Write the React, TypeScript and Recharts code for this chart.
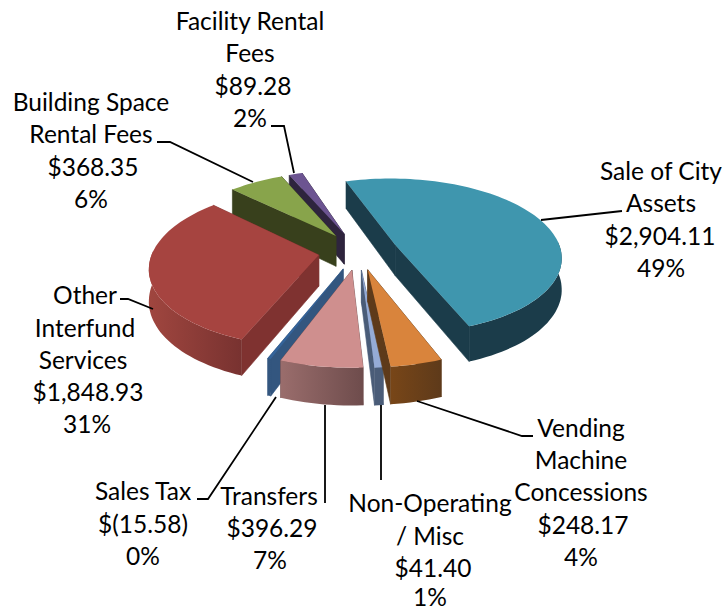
import { PieChart, Pie } from "recharts";

const categories = [
  "Facility Rental Fees",
  "Building Space Rental Fees",
  "Other Interfund Services",
  "Sales Tax",
  "Transfers",
  "Non-Operating / Misc",
  "Vending Machine Concessions",
  "Sale of City Assets",
];
const amounts = [89.28, 368.35, 1848.93, -15.58, 396.29, 41.4, 248.17, 2904.11];
const percents = ["2%", "6%", "31%", "0%", "7%", "1%", "4%", "49%"];
const amountLabels = ["$89.28", "$368.35", "$1,848.93", "$(15.58)", "$396.29", "$41.40", "$248.17", "$2,904.11"];

// top face, radial wall, outer wall left/right
const topColors = ["#6C5491", "#88A44B", "#A64440", "#34639A", "#CF8F8E", "#95ABD6", "#D9843C", "#3F96AE"];
const wallColors = ["#2E243D", "#38401C", "#7F3230", "#33567F", "#6E4C4C", "#4A5C78", "#5E3A1A", "#1B3C4A"];
const outerLeft = ["#4A3A62", "#4E5C2A", "#A0463F", "#33567F", "#9A6D6C", "#4A5C78", "#784618", "#1B3C4A"];
const outerRight = ["#3D3050", "#38401C", "#783230", "#33567F", "#6E4C4C", "#4A5C78", "#5E3A1A", "#1B3C4A"];

const labelLines: { x: number; y: number; text: string }[][] = [
  [
    { x: 250, y: 30, text: "Facility Rental" },
    { x: 250, y: 62, text: "Fees" },
    { x: 253, y: 95, text: amountLabels[0] },
    { x: 250, y: 127, text: percents[0] },
  ],
  [
    { x: 91, y: 111, text: "Building Space" },
    { x: 91, y: 143, text: "Rental Fees" },
    { x: 93, y: 176, text: amountLabels[1] },
    { x: 91, y: 208, text: percents[1] },
  ],
  [
    { x: 85, y: 304, text: "Other" },
    { x: 85, y: 337, text: "Interfund" },
    { x: 83, y: 369, text: "Services" },
    { x: 88, y: 401, text: amountLabels[2] },
    { x: 87, y: 433, text: percents[2] },
  ],
  [
    { x: 143, y: 500, text: "Sales Tax" },
    { x: 143, y: 533, text: amountLabels[3] },
    { x: 143, y: 565, text: percents[3] },
  ],
  [
    { x: 269, y: 505, text: "Transfers" },
    { x: 272, y: 537, text: amountLabels[4] },
    { x: 270, y: 569, text: percents[4] },
  ],
  [
    { x: 430, y: 512, text: "Non-Operating" },
    { x: 430, y: 545, text: "/ Misc" },
    { x: 433, y: 577, text: amountLabels[5] },
    { x: 430, y: 606, text: percents[5] },
  ],
  [
    { x: 581, y: 437, text: "Vending" },
    { x: 581, y: 469, text: "Machine" },
    { x: 581, y: 501, text: "Concessions" },
    { x: 583, y: 534, text: amountLabels[6] },
    { x: 581, y: 566, text: percents[6] },
  ],
  [
    { x: 661, y: 180, text: "Sale of City" },
    { x: 661, y: 212, text: "Assets" },
    { x: 660, y: 245, text: amountLabels[7] },
    { x: 661, y: 277, text: percents[7] },
  ],
];

const leaderLines = [
  "271,126 284,126 294,173",
  "157,142 170,142 253,182",
  "120,299 128,299 153,309",
  "197,499 208,499 276,397",
  "325,405 325,503",
  "381,405 381,480",
  "533,436 522,436 417,401",
  "622,211 541,220",
];

const tableData = categories.map((name, i) => ({
  name,
  amount: amounts[i],
  size: Math.abs(amounts[i]),
}));

const PERSPECTIVE = 0.144;
const FLATTEN = 0.467;
const EXPLODE = 0.24;
const DEPTH = 31;
const RAD = Math.PI / 180;

type Pt = [number, number];

const toPath = (pts: Pt[]) => "M" + pts.map((p) => `${p[0].toFixed(1)},${p[1].toFixed(1)}`).join("L") + "Z";

// tilted, exploded wedge built from the sector angles Recharts hands over
const Slice3D = (props: any) => {
  const { cx, cy, outerRadius, startAngle, endAngle, index } = props;
  const mid = ((startAngle + endAngle) / 2) * RAD;
  const ox = EXPLODE * Math.cos(mid);
  const oy = EXPLODE * Math.sin(mid);

  const project = (u: number, v: number, down: boolean): Pt => {
    const pu = u + ox;
    const pv = v + oy;
    const s = 1 / (1 + PERSPECTIVE * pv);
    return [cx + outerRadius * pu * s, cy - outerRadius * FLATTEN * pv * s + (down ? DEPTH * s : 0)];
  };

  const steps = Math.max(2, Math.ceil((endAngle - startAngle) / 2));
  const rim: { u: number; v: number }[] = [];
  for (let i = 0; i <= steps; i++) {
    const a = (startAngle + ((endAngle - startAngle) * i) / steps) * RAD;
    rim.push({ u: Math.cos(a), v: Math.sin(a) });
  }

  const top: Pt[] = [project(0, 0, false), ...rim.map((p) => project(p.u, p.v, false))];

  const wall = (p: { u: number; v: number }) => [
    project(0, 0, false),
    project(p.u, p.v, false),
    project(p.u, p.v, true),
    project(0, 0, true),
  ];

  // only the part of the rim that faces the viewer gets an outer wall
  const front = rim.filter((p) => p.v < 0.05);
  const outer: Pt[] = [
    ...front.map((p) => project(p.u, p.v, false)),
    ...[...front].reverse().map((p) => project(p.u, p.v, true)),
  ];
  const xs = outer.map((p) => p[0]);
  const gradId = `outer-${index}`;

  return (
    <g>
      <defs>
        <linearGradient
          id={gradId}
          gradientUnits="userSpaceOnUse"
          x1={xs.length ? Math.min(...xs) : 0}
          x2={xs.length ? Math.max(...xs) : 1}
          y1={0}
          y2={0}
        >
          <stop offset="0%" stopColor={outerLeft[index]} />
          <stop offset="100%" stopColor={outerRight[index]} />
        </linearGradient>
      </defs>
      <path d={toPath(wall(rim[0]))} fill={wallColors[index]} stroke={wallColors[index]} strokeWidth={0.6} />
      <path
        d={toPath(wall(rim[rim.length - 1]))}
        fill={wallColors[index]}
        stroke={wallColors[index]}
        strokeWidth={0.6}
      />
      {outer.length > 2 && <path d={toPath(outer)} fill={`url(#${gradId})`} />}
      <path d={toPath(top)} fill={topColors[index]} />
    </g>
  );
};

const SliceLabel = (props: any) => {
  const { index } = props;
  return (
    <g>
      <polyline points={leaderLines[index]} fill="none" stroke="#000" strokeWidth={1.8} />
      {labelLines[index].map((line) => (
        <text
          key={line.text}
          x={line.x}
          y={line.y}
          textAnchor="middle"
          fontFamily="Lato"
          fontSize={24.5}
          fill="#000"
        >
          {line.text}
        </text>
      ))}
    </g>
  );
};

export default function App() {
  return (
    <div style={{ position: "absolute", left: 0, top: 0, width: 724, height: 611, background: "#fff" }}>
      <PieChart width={724} height={611} margin={{ top: 0, right: 0, bottom: 0, left: 0 }}>
        <Pie
          data={tableData}
          dataKey="size"
          nameKey="name"
          cx={358}
          cy={251}
          innerRadius={0}
          outerRadius={166}
          startAngle={108}
          endAngle={468}
          paddingAngle={0}
          stroke="none"
          isAnimationActive={false}
          shape={Slice3D}
          inactiveShape={Slice3D}
          label={SliceLabel}
          labelLine={false}
        />
      </PieChart>
    </div>
  );
}
